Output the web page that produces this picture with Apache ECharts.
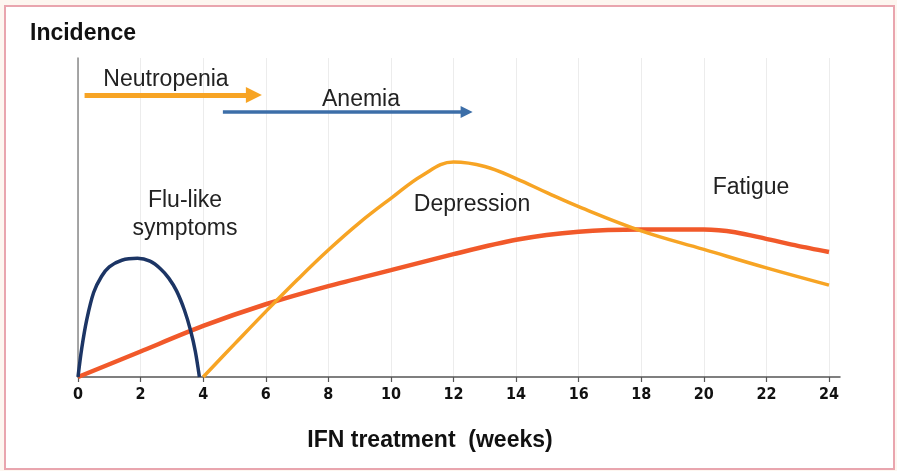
<!DOCTYPE html>
<html><head><meta charset="utf-8">
<script src="https://cdn.jsdelivr.net/npm/echarts@6/dist/echarts.min.js"></script>
<style>
html,body{margin:0;padding:0;background:#fdf6f0;}
#frame{position:absolute;left:4px;top:5px;width:887px;height:461px;border:2px solid #e9a5ae;background:#fff;}
#chart{position:absolute;left:0;top:0;width:897px;height:471px;}
</style></head><body>
<div id="frame"></div><div id="chart"></div>
<script>
// ---- data ----
const weekTicks = [0, 2, 4, 6, 8, 10, 12, 14, 16, 18, 20, 22, 24];
const fluData = [[0,0],[0.12,9],[0.28,18],[0.5,26.5],[0.75,31.5],[1,34.5],[1.4,36.6],[1.9,37.2],[2.3,36.3],[2.65,33.8],[2.9,31],[3.15,27],[3.4,21],[3.6,14.5],[3.75,8],[3.88,0]];
const depressionData = [[4,0],[5,10.3],[6,20.5],[7,30.4],[8,39.8],[9,48.4],[10,56],[11,63.2],[12,67.4],[13,66],[14,62.2],[15,57.7],[16,53.4],[18,45.8],[20,40],[22,34.2],[24,28.8]];
const fatigueData = [[0,0],[2,8],[4,16],[6,22.8],[8,28.5],[10,33.5],[12,38.5],[14,43],[16,45.5],[18,46.2],[20,46.2],[21,45.4],[22,43.3],[23,41.1],[24,39.2]];
const neutropeniaSpan = [0.21, 5.62];
const neutropeniaLevel = 88.4;
const anemiaSpan = [4.63, 12.42];
const anemiaLevel = 83.1;

const txt = '#222';
const font = '"Liberation Sans", Arial, Helvetica, sans-serif';
const chart = echarts.init(document.getElementById('chart'), null, {renderer: 'canvas'});

function arrowSeries(name, span, level, color, width, headSize) {
  return {
    name: name, type: 'line', xAxisIndex: 0, yAxisIndex: 0, data: [],
    markLine: {
      silent: true, animation: false,
      symbol: ['none', 'triangle'], symbolSize: headSize,
      label: {show: false},
      lineStyle: {color: color, width: width, type: 'solid'},
      emphasis: {disabled: true},
      data: [[{coord: [span[0], level]}, {coord: [span[1], level]}]]
    }
  };
}

chart.setOption({
  animation: false,
  backgroundColor: 'transparent',
  grid: [
    {left: 78, right: 68, top: 58, bottom: 94},
    {left: 78, right: 57, top: 58, bottom: 94}
  ],
  xAxis: [
    {
      type: 'value', gridIndex: 0, min: 0, max: 24, interval: 2,
      axisLine: {show: false},
      axisTick: {show: true, length: 5, inside: false, lineStyle: {color: '#555', width: 1.2}},
      axisLabel: {margin: 10, color: '#111', fontWeight: 'bold', fontSize: 16,
        fontFamily: '"DejaVu Sans Condensed", "Liberation Sans Narrow", sans-serif'},
      splitLine: {show: true, lineStyle: {color: '#ececec', width: 1}}
    },
    {
      type: 'value', gridIndex: 1, min: 0, max: 1,
      axisLine: {show: true, onZero: false, lineStyle: {color: '#555', width: 1.5}},
      axisTick: {show: false}, axisLabel: {show: false}, splitLine: {show: false}
    }
  ],
  yAxis: [
    {
      type: 'value', gridIndex: 0, min: 0, max: 100,
      axisLine: {show: true, lineStyle: {color: '#8a8a8a', width: 1.5}},
      axisTick: {show: false}, axisLabel: {show: false}, splitLine: {show: false}
    },
    {
      type: 'value', gridIndex: 1, min: 0, max: 100, show: false
    }
  ],
  series: [
    {
      name: 'Fatigue', type: 'line', data: fatigueData, smooth: 0.25, symbol: 'none',
      lineStyle: {color: '#f1592a', width: 4.5}, z: 3
    },
    {
      name: 'Depression', type: 'line', data: depressionData, smooth: 0.4, symbol: 'none',
      lineStyle: {color: '#f7a424', width: 3.5}, z: 4
    },
    {
      name: 'Flu-like symptoms', type: 'line', data: fluData, smooth: 0.3, symbol: 'none',
      lineStyle: {color: '#1c3565', width: 3.5}, z: 5
    },
    arrowSeries('Neutropenia', neutropeniaSpan, neutropeniaLevel, '#f7a424', 5, 16),
    arrowSeries('Anemia', anemiaSpan, anemiaLevel, '#3c6ea8', 3.5, 12)
  ],
  graphic: {
    z: 100,
    elements: [
      {type: 'text', z: 100, left: 30, top: 22, style: {text: 'Incidence', fill: '#111', font: 'bold 23px ' + font}},
      {type: 'text', z: 100, x: 166, y: 80, style: {text: 'Neutropenia', fill: txt, font: '23px ' + font, align: 'center', verticalAlign: 'middle'}},
      {type: 'text', z: 100, x: 361, y: 100, style: {text: 'Anemia', fill: txt, font: '23px ' + font, align: 'center', verticalAlign: 'middle'}},
      {type: 'text', z: 100, x: 185, y: 215, style: {text: 'Flu-like\nsymptoms', fill: txt, font: '23px ' + font, align: 'center', verticalAlign: 'middle', lineHeight: 28}},
      {type: 'text', z: 100, x: 472, y: 205, style: {text: 'Depression', fill: txt, font: '23px ' + font, align: 'center', verticalAlign: 'middle'}},
      {type: 'text', z: 100, x: 751, y: 188, style: {text: 'Fatigue', fill: txt, font: '23px ' + font, align: 'center', verticalAlign: 'middle'}},
      {type: 'text', z: 100, x: 430, y: 441, style: {text: 'IFN treatment  (weeks)', fill: '#111', font: 'bold 23px ' + font, align: 'center', verticalAlign: 'middle'}}
    ]
  }
});
</script>
</body></html>
